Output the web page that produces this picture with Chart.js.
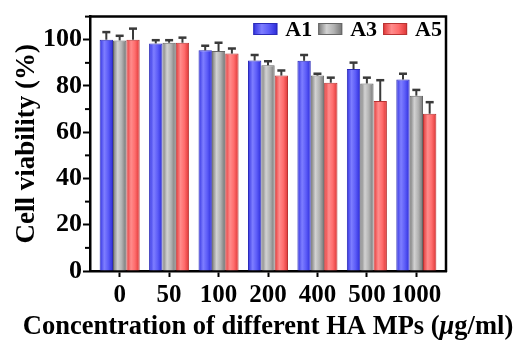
<!DOCTYPE html>
<html><head><meta charset="utf-8">
<script src="https://cdn.jsdelivr.net/npm/chart.js@4"></script>
<style>html,body{margin:0;padding:0;background:#fff}#wrap{width:519px;height:347px}</style>
</head><body><div id="wrap"><canvas id="c" width="519" height="347"></canvas></div>
<script>
const categories = ['0', '50', '100', '200', '400', '500', '1000'];
const seriesNames = ['A1', 'A3', 'A5'];
const a1 = [100, 98.4, 95.4, 91, 90.9, 87.3, 82.8];
const a3 = [99.7, 98.7, 95.1, 89, 84.5, 81.1, 75.8];
const a5 = [100, 98.7, 94, 84.5, 81.4, 73.5, 68];
const a1Err = [3.3, 1.4, 2, 2.4, 2.5, 2.8, 2.5];
const a3Err = [2, 1.1, 3.6, 1.7, 0.8, 2.5, 2.5];
const a5Err = [4.8, 2.2, 2.2, 2.2, 2.2, 9, 5];
const yLabelTicks = [0, 20, 40, 60, 80, 100];
const xTitle = ['Concentration of different HA MPs (', 'μ', 'g/ml)'];
const yTitle = 'Cell viability (%)';

const FONT = "'Liberation Serif', 'Times New Roman', serif";
const palette = [
  {mid: '#5a5af5', border: '#2b2bb8', stops: ['#3030e0', '#7e7eff', '#5c5cf8', '#2a2ad8']},
  {mid: '#a8a8a8', border: '#666666', stops: ['#767676', '#d2d2d2', '#b2b2b2', '#747474']},
  {mid: '#f25a5a', border: '#b83333', stops: ['#e03434', '#ff8c8c', '#ff6c6c', '#dc3434']}
];
const values = [a1, a3, a5];
const errors = [a1Err, a3Err, a5Err];

function makeGrad(ctx, x0, x1, stops) {
  const g = ctx.createLinearGradient(x0, 0, x1, 0);
  g.addColorStop(0, stops[0]);
  g.addColorStop(0.35, stops[1]);
  g.addColorStop(0.65, stops[2]);
  g.addColorStop(1, stops[3]);
  return g;
}

const datasets = seriesNames.map((name, k) => ({
  label: name,
  data: values[k].map((v, i) => ({x: i, y: v})),
  backgroundColor: () => palette[k].mid,
  borderColor: palette[k].border,
  borderWidth: 1,
  categoryPercentage: 0.81,
  barPercentage: 1.0
}));

const gradientPlugin = {
  id: 'grad',
  beforeDatasetsDraw(chart) {
    const ctx = chart.ctx;
    chart.data.datasets.forEach((ds, k) => {
      chart.getDatasetMeta(k).data.forEach(el => {
        const x0 = el.x - el.width / 2, x1 = el.x + el.width / 2;
        el.options.backgroundColor = makeGrad(ctx, x0, x1, palette[k].stops);
      });
    });
  }
};

const errorPlugin = {
  id: 'errbars',
  afterDatasetsDraw(chart) {
    const ctx = chart.ctx, ys = chart.scales.y;
    ctx.save();
    ctx.strokeStyle = '#3a3a3a';
    chart.data.datasets.forEach((ds, k) => {
      chart.getDatasetMeta(k).data.forEach((el, i) => {
        const v = values[k][i], e = errors[k][i];
        const yTop = ys.getPixelForValue(v + e);
        const yv = ys.getPixelForValue(v);
        ctx.lineWidth = 2;
        ctx.beginPath(); ctx.moveTo(el.x, yv); ctx.lineTo(el.x, yTop); ctx.stroke();
        ctx.lineWidth = 2.5;
        ctx.beginPath(); ctx.moveTo(el.x - 4, yTop); ctx.lineTo(el.x + 4, yTop); ctx.stroke();
      });
    });
    ctx.restore();
  }
};

const framePlugin = {
  id: 'frame',
  afterDraw(chart) {
    const ctx = chart.ctx, a = chart.chartArea, ys = chart.scales.y;
    ctx.save();
    ctx.strokeStyle = '#000';
    ctx.lineWidth = 2.5;
    ctx.beginPath();
    ctx.moveTo(a.left - 1, a.top); ctx.lineTo(a.right, a.top); ctx.lineTo(a.right, a.bottom + 1);
    ctx.stroke();
    // minor y ticks
    ctx.lineWidth = 2;
    for (let v = 10; v <= 110; v += 20) {
      const y = ys.getPixelForValue(v);
      ctx.beginPath(); ctx.moveTo(a.left - 5, y); ctx.lineTo(a.left, y); ctx.stroke();
    }
    // custom legend
    ctx.font = 'bold 22px ' + FONT;
    ctx.textBaseline = 'middle';
    ctx.textAlign = 'left';
    const boxW = 24, boxH = 12, gap = 8, spacing = 6;
    let widths = seriesNames.map(n => boxW + gap + ctx.measureText(n).width);
    let total = widths.reduce((s, w) => s + w, 0) + spacing * (seriesNames.length - 1);
    let x = a.right - 4 - total;
    const yc = 29;
    seriesNames.forEach((n, k) => {
      ctx.fillStyle = makeGrad(ctx, x, x + boxW, palette[k].stops);
      ctx.fillRect(x, yc - boxH / 2, boxW, boxH);
      ctx.lineWidth = 1; ctx.strokeStyle = palette[k].border;
      ctx.strokeRect(x + 0.5, yc - boxH / 2 + 0.5, boxW - 1, boxH - 1);
      ctx.fillStyle = '#000';
      ctx.fillText(n, x + boxW + gap, yc + 1);
      x += widths[k] + spacing;
    });
    // x title with italic mu
    const cx = (a.left + a.right) / 2, ty = 327;
    const f1 = 'bold 26.5px ' + FONT, f2 = 'italic bold 26.5px ' + FONT;
    ctx.font = f1; const w0 = ctx.measureText(xTitle[0]).width, w2 = ctx.measureText(xTitle[2]).width;
    ctx.font = f2; const w1 = ctx.measureText(xTitle[1]).width;
    let tx = cx - (w0 + w1 + w2) / 2;
    ctx.fillStyle = '#000';
    ctx.font = f1; ctx.fillText(xTitle[0], tx, ty); tx += w0;
    ctx.font = f2; ctx.fillText(xTitle[1], tx, ty); tx += w1;
    ctx.font = f1; ctx.fillText(xTitle[2], tx, ty);
    ctx.restore();
  }
};

new Chart(document.getElementById('c'), {
  type: 'bar',
  data: {datasets},
  options: {
    responsive: false,
    devicePixelRatio: 1,
    animation: false,
    layout: {padding: {top: 10, right: 73, left: 0, bottom: 0}},
    plugins: {legend: {display: false}, tooltip: {enabled: false}},
    scales: {
      x: {
        type: 'linear',
        offset: false,
        min: -0.6, max: 6.6,
        afterBuildTicks: s => { s.ticks = categories.map((c, i) => ({value: i})); },
        afterFit: s => { s.height = 76; },
        ticks: {
          callback: v => categories[v],
          autoSkip: false, maxRotation: 0, padding: 4,
          color: '#000', font: {family: FONT, weight: 'bold', size: 25}
        },
        grid: {display: true, offset: false, drawOnChartArea: false, drawTicks: true, tickLength: 6, tickWidth: 2, tickColor: '#000'},
        border: {display: true, color: '#000', width: 2.5}
      },
      y: {
        min: 0, max: 110,
        afterFit: s => { s.width = 90; },
        ticks: {
          stepSize: 10,
          callback: v => yLabelTicks.includes(v) ? String(v) : '',
          padding: 1, color: '#000', font: {family: FONT, weight: 'bold', size: 26}
        },
        grid: {display: true, drawOnChartArea: false, drawTicks: true, tickLength: 7, tickWidth: 2,
          tickColor: c => (c.tick && yLabelTicks.includes(c.tick.value)) ? '#000' : 'rgba(0,0,0,0)'},
        border: {display: true, color: '#000', width: 2.5},
        title: {display: true, text: yTitle, color: '#000', padding: {top: 11, bottom: 0},
          font: {family: FONT, weight: 'bold', size: 27}}
      }
    }
  },
  plugins: [gradientPlugin, errorPlugin, framePlugin]
});
</script></body></html>
